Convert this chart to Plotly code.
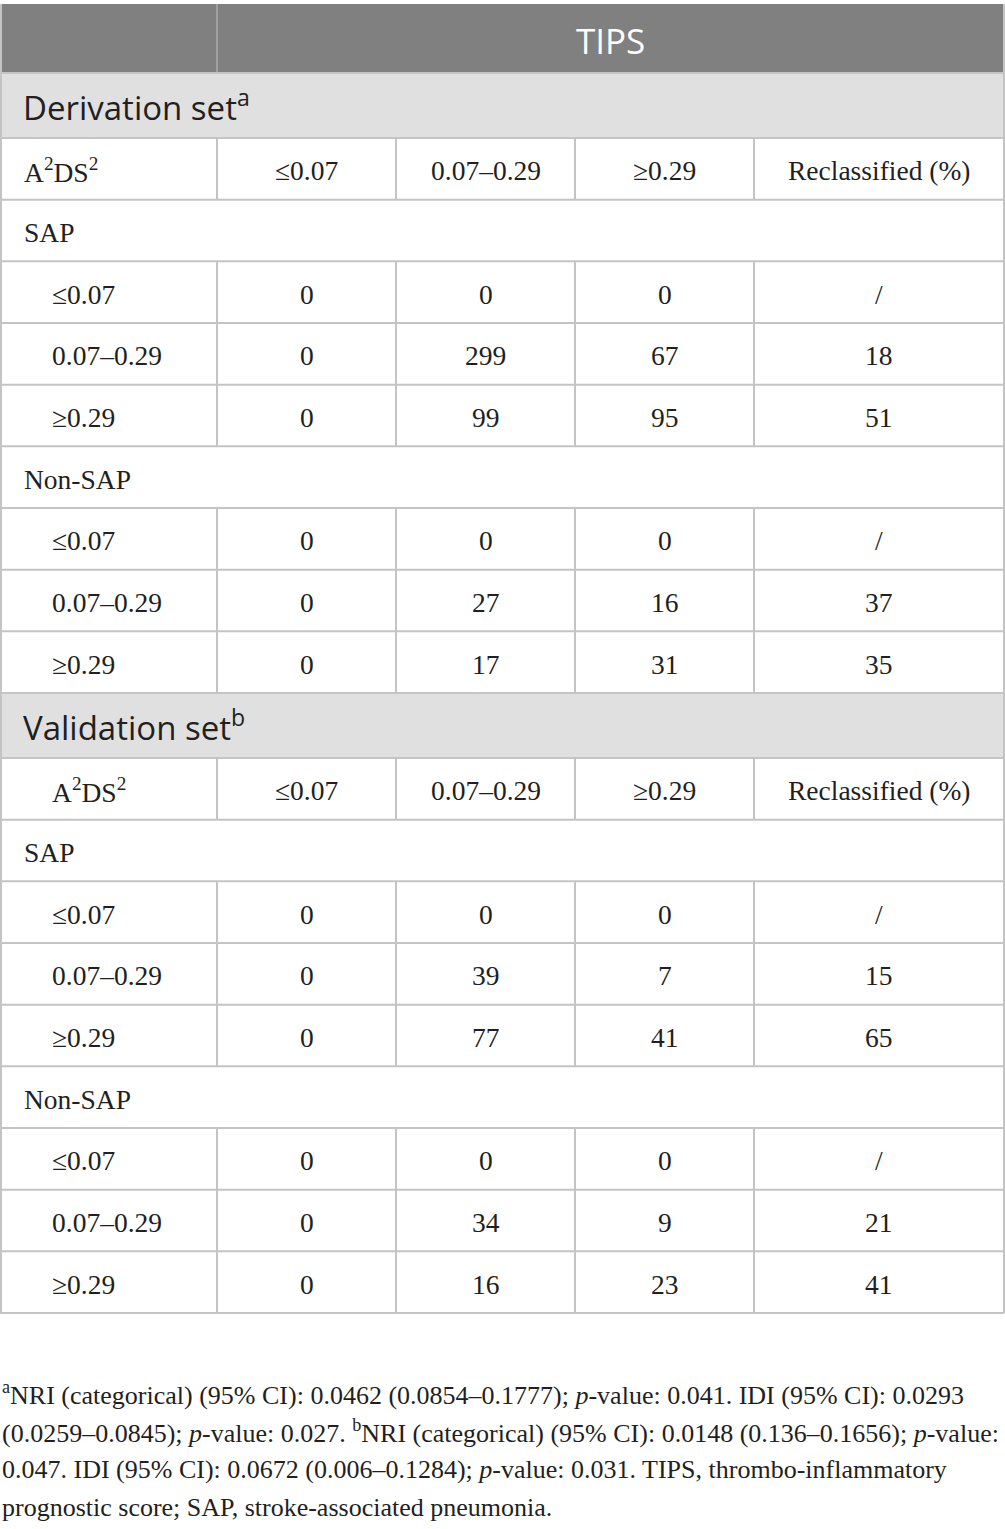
import plotly.graph_objects as go

# table contents
top_header = "TIPS"
sections = ["Derivation set<sup>a</sup>", "Validation set<sup>b</sup>"]
col_header = ["A<sup>2</sup>DS<sup>2</sup>", "≤0.07", "0.07–0.29", "≥0.29", "Reclassified (%)"]
groups = ["SAP", "Non-SAP"]
row_labels = ["≤0.07", "0.07–0.29", "≥0.29"]

derivation_sap = [["0", "0", "0", "/"], ["0", "299", "67", "18"], ["0", "99", "95", "51"]]
derivation_non_sap = [["0", "0", "0", "/"], ["0", "27", "16", "37"], ["0", "17", "31", "35"]]
validation_sap = [["0", "0", "0", "/"], ["0", "39", "7", "15"], ["0", "77", "41", "65"]]
validation_non_sap = [["0", "0", "0", "/"], ["0", "34", "9", "21"], ["0", "16", "23", "41"]]

footnote = [
    "<sup>a</sup>NRI (categorical) (95% CI): 0.0462 (0.0854–0.1777); <i>p</i>-value: 0.041. IDI (95% CI): 0.0293",
    "(0.0259–0.0845); <i>p</i>-value: 0.027. <sup>b</sup>NRI (categorical) (95% CI): 0.0148 (0.136–0.1656); <i>p</i>-value:",
    "0.047. IDI (95% CI): 0.0672 (0.006–0.1284); <i>p</i>-value: 0.031. TIPS, thrombo-inflammatory",
    "prognostic score; SAP, stroke-associated pneumonia.",
]

# layout in pixel units
W, H = 1005, 1529
col_x = [0, 217, 396, 575, 754, 1004]
LINE = "#c4c4c4"
DARK = "#7f807f"
LIGHT = "#e1e0e1"
TXT = "#231f20"
SERIF = "Liberation Serif"
SANS = "Open Sans"

shapes = []
annotations = []


def hline(y):
    shapes.append(dict(type="line", x0=col_x[0], x1=col_x[-1], y0=y, y1=y,
                       line=dict(color=LINE, width=2), layer="above"))


def vline(x, y0, y1, color=LINE):
    shapes.append(dict(type="line", x0=x, x1=x, y0=y0, y1=y1,
                       line=dict(color=color, width=2), layer="above"))


def text(x, y, s, anchor="center", size=27.5, font=SERIF, color=TXT, dy=2):
    annotations.append(dict(x=x, y=y + dy, text=s, xanchor=anchor, yanchor="middle",
                            showarrow=False, font=dict(family=font, size=size, color=color)))


# header row
y = 4
shapes.append(dict(type="rect", x0=col_x[0], x1=col_x[-1], y0=y, y1=73,
                   fillcolor=DARK, line=dict(width=0), layer="below"))
vline(col_x[1], y, 73, color="#a0a0a0")
text((col_x[1] + col_x[-1]) / 2, (y + 73) / 2, top_header, size=35, font=SANS, color="white")
y = 73
hline(y)

row_h = 555 / 9
blocks = [(derivation_sap, derivation_non_sap), (validation_sap, validation_non_sap)]
for si, sec in enumerate(sections):
    # section row
    y1 = y + 65
    shapes.append(dict(type="rect", x0=col_x[0], x1=col_x[-1], y0=y, y1=y1,
                       fillcolor=LIGHT, line=dict(width=0), layer="below"))
    text(21, (y + y1) / 2, sec, anchor="left", size=33, font=SANS, dy=0)
    y = y1
    hline(y)
    # column header row
    y1 = y + row_h
    for c in range(1, 5):
        vline(col_x[c], y, y1)
    text(22 if si == 0 else 50, (y + y1) / 2, col_header[0], anchor="left")
    for c in range(1, 5):
        text((col_x[c] + col_x[c + 1]) / 2, (y + y1) / 2, col_header[c])
    y = y1
    hline(y)
    for gi, g in enumerate(groups):
        y1 = y + row_h
        text(22, (y + y1) / 2, g, anchor="left")
        y = y1
        hline(y)
        for ri, lab in enumerate(row_labels):
            y1 = y + row_h
            for c in range(1, 5):
                vline(col_x[c], y, y1)
            text(50, (y + y1) / 2, lab, anchor="left")
            for c, v in enumerate(blocks[si][gi][ri]):
                text((col_x[c + 1] + col_x[c + 2]) / 2, (y + y1) / 2, v)
            y = y1
            hline(y)

# outer borders
vline(col_x[0] + 1, 4, y)
vline(col_x[-1], 4, y)

# footnote
for i, line in enumerate(footnote):
    text(0, 1393 + 38 * i, line, anchor="left", size=26, dy=0)

fig = go.Figure()
fig.update_layout(
    width=W, height=H,
    margin=dict(l=0, r=0, t=0, b=0),
    paper_bgcolor="white", plot_bgcolor="white",
    xaxis=dict(range=[0, W], visible=False, fixedrange=True),
    yaxis=dict(range=[H, 0], visible=False, fixedrange=True),
    shapes=shapes, annotations=annotations,
    showlegend=False,
)
fig.write_html("out.html", config={"displayModeBar": False},
               post_script="document.body.style.margin='0';")
